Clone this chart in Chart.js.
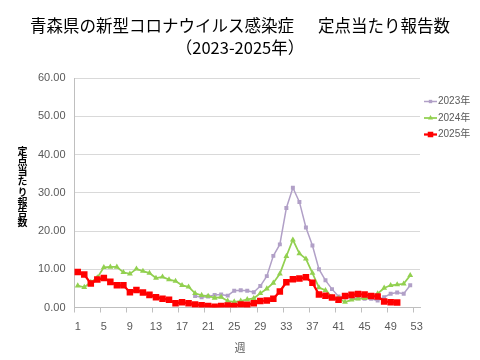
<!DOCTYPE html>
<html lang="ja">
<head>
<meta charset="utf-8">
<script src="https://cdn.jsdelivr.net/npm/chart.js@4.4.1/dist/chart.umd.min.js"></script>
<style>
  body { margin: 0; background: #fff; }
  #wrap { position: relative; width: 480px; height: 360px; }
  #title { position: absolute; left: 0; top: 15px; width: 480px; text-align: center; white-space: pre;
           font: 16.5px "Noto Sans CJK JP"; line-height: 21.5px; color: #000; }
  #ytitle { position: absolute; left: 17px; top: 146px; writing-mode: vertical-rl; text-orientation: upright;
            font: bold 10px "Noto Sans CJK JP"; line-height: 11px; letter-spacing: 0.2px; color: #000; }
  #xtitle { position: absolute; left: 0; top: 340px; width: 480px; text-align: center;
            font: 11px "Noto Sans CJK JP"; line-height: 14px; color: #595959; }
</style>
</head>
<body>
<div id="wrap">
  <canvas id="canvas" width="480" height="360"></canvas>
  <div id="title">青森県の新型コロナウイルス感染症　  定点当たり報告数
（2023-2025年）</div>
  <div id="ytitle">定点当たり報告数</div>
  <div id="xtitle">週</div>
</div>
<script>
// 週（カテゴリ）
const weeks = ['1','2','3','4','5','6','7','8','9','10','11','12','13','14','15','16','17','18','19','20',
  '21','22','23','24','25','26','27','28','29','30','31','32','33','34','35','36','37','38','39','40',
  '41','42','43','44','45','46','47','48','49','50','51','52','53'];

// 定点当たり報告数（2023年は第19週から）
const cases2023 = [null, null, null, null, null, null, null, null, null, null, null, null, null, null, null, null, null, null,
  3.0, 2.7, 2.9, 3.3, 3.4, 3.1, 4.4, 4.5, 4.4, 4.0, 5.6, 8.2, 13.5, 16.5, 26.0, 31.3, 27.6, 20.9, 16.2, 10.0,
  7.1, 4.8, 2.9, 2.7, 2.5, 2.4, 2.3, 2.3, 1.8, 2.7, 3.6, 3.9, 3.6, 5.8];
const cases2024 = [5.7, 5.3, 6.6, 7.8, 10.5, 10.6, 10.6, 9.2, 8.8, 10.1, 9.5, 9.0, 7.7, 8.0, 7.3, 6.9, 5.8, 5.4,
  3.7, 3.2, 3.0, 2.5, 2.7, 1.7, 1.5, 1.7, 2.1, 2.4, 3.7, 4.9, 6.4, 8.8, 13.4, 17.7, 14.1, 12.7, 9.0, 5.2,
  4.5, 2.8, 2.4, 1.4, 2.0, 2.3, 2.4, 2.7, 3.6, 5.1, 5.8, 6.0, 6.2, 8.4];
const cases2025 = [9.3, 8.6, 6.3, 7.3, 7.7, 6.7, 5.8, 5.8, 4.0, 4.6, 3.9, 3.3, 2.7, 2.3, 2.0, 1.1, 1.4, 1.1,
  0.8, 0.6, 0.4, 0.2, 0.4, 0.5, 0.4, 0.8, 0.7, 1.1, 1.7, 1.8, 2.3, 4.2, 6.6, 7.4, 7.6, 7.9, 6.5, 3.4,
  3.1, 2.6, 2.0, 3.0, 3.3, 3.5, 3.4, 3.0, 2.9, 1.6, 1.4, 1.3];

// y軸
const yMin = 0;
const yMax = 60;
const yStep = 10;

Chart.defaults.font.family = '"Liberation Sans", "Noto Sans CJK JP"';

// 右側の凡例（線＋マーカー）
const sideLegend = {
  id: 'sideLegend',
  afterDraw(chart) {
    const ctx = chart.ctx;
    const area = chart.chartArea;
    const x0 = area.right + 4;
    let y = area.top + 23.5;
    chart.data.datasets.forEach(ds => {
      ctx.save();
      ctx.strokeStyle = ds.borderColor;
      ctx.lineWidth = ds.borderWidth;
      ctx.beginPath();
      ctx.moveTo(x0, y);
      ctx.lineTo(x0 + 13, y);
      ctx.stroke();
      ctx.fillStyle = ds.pointBackgroundColor;
      Chart.helpers.drawPoint(ctx, { pointStyle: ds.pointStyle, radius: ds.pointRadius * 0.85, borderWidth: 0, rotation: 0 }, x0 + 6.5, y);
      ctx.fillStyle = '#595959';
      ctx.font = '10px "Liberation Sans", "Noto Sans CJK JP"';
      ctx.textBaseline = 'middle';
      ctx.textAlign = 'left';
      ctx.fillText(ds.label, x0 + 14, y);
      ctx.restore();
      y += 16.5;
    });
  }
};

new Chart(document.getElementById('canvas'), {
  type: 'line',
  data: {
    labels: weeks,
    datasets: [{
      label: '2023年',
      data: cases2023,
      borderColor: '#b1a0c7',
      backgroundColor: '#b1a0c7',
      pointBackgroundColor: '#b1a0c7',
      borderWidth: 1.5,
      pointStyle: 'rect',
      pointRadius: 2.8,
      pointBorderWidth: 0,
      order: 2
    }, {
      label: '2024年',
      data: cases2024,
      borderColor: '#92d050',
      backgroundColor: '#92d050',
      pointBackgroundColor: '#92d050',
      borderWidth: 1.75,
      pointStyle: 'triangle',
      pointRadius: 3.4,
      pointBorderWidth: 0,
      order: 1
    }, {
      label: '2025年',
      data: cases2025,
      borderColor: '#ff0000',
      backgroundColor: '#ff0000',
      pointBackgroundColor: '#ff0000',
      borderWidth: 2.25,
      pointStyle: 'rect',
      pointRadius: 4.6,
      pointBorderWidth: 0,
      order: 0
    }]
  },
  options: {
    responsive: false,
    animation: false,
    devicePixelRatio: 1,
    layout: { padding: { left: 24.5, right: 60, top: 78, bottom: 0 } },
    plugins: {
      legend: { display: false },
      tooltip: { enabled: false }
    },
    scales: {
      x: {
        offset: true,
        ticks: {
          autoSkip: false,
          maxRotation: 0,
          padding: 8,
          color: '#595959',
          font: { size: 11 },
          callback: function (v, i) { return i % 4 === 0 ? this.getLabelForValue(v) : ''; }
        },
        grid: {
          offset: true,
          drawOnChartArea: false,
          tickLength: 5,
          color: c => (c.index % 4 === 0 ? '#bfbfbf' : 'rgba(0,0,0,0)')
        },
        border: { color: '#bfbfbf' },
        afterFit(s) { s.height = 52.5; }
      },
      y: {
        min: yMin,
        max: yMax,
        ticks: {
          stepSize: yStep,
          padding: 9,
          color: '#595959',
          font: { size: 11 },
          callback: v => v.toFixed(2)
        },
        grid: { color: '#d9d9d9', drawTicks: false },
        border: { display: true, color: '#bfbfbf' },
        afterFit(s) { s.width = 50; }
      }
    }
  },
  plugins: [sideLegend]
});
</script>
</body>
</html>
